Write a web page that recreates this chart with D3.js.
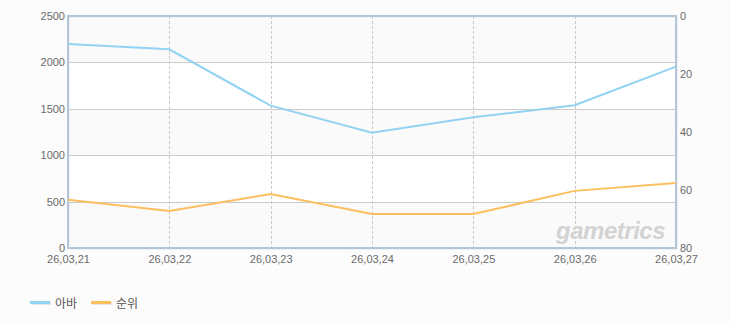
<!DOCTYPE html>
<html>
<head>
<meta charset="utf-8">
<script src="https://cdn.jsdelivr.net/npm/d3@7"></script>
<style>
  body { margin: 0; background: #fcfcfc; }
  text { font-family: "Liberation Sans", Arial, sans-serif; }
  .legend text { font-family: "Noto Sans CJK KR", sans-serif; }
</style>
</head>
<body>
<div id="chart"></div>
<script>
var dates = ["26,03,21", "26,03,22", "26,03,23", "26,03,24", "26,03,25", "26,03,26", "26,03,27"];
var abaValues = [2198, 2141, 1534, 1243, 1408, 1538, 1954];
var rankValues = [63.4, 67.2, 61.4, 68.3, 68.3, 60.3, 57.6];
var leftTicks = [0, 500, 1000, 1500, 2000, 2500];
var rightTicks = [0, 20, 40, 60, 80];
var seriesNames = ["아바", "순위"];

var svgWidth = 730;
var svgHeight = 325;
var margin = { top: 16, right: 54, bottom: 77, left: 68 };
var width = svgWidth - margin.left - margin.right;
var height = svgHeight - margin.top - margin.bottom;

var svg = d3.select("#chart")
  .append("svg")
  .attr("width", svgWidth)
  .attr("height", svgHeight);

var chartGroup = svg.append("g")
  .attr("transform", `translate(${margin.left}, ${margin.top})`);

var xScale = d3.scalePoint()
  .domain(dates)
  .range([0, width]);

var yLeft = d3.scaleLinear()
  .domain([0, 2500])
  .range([height, 0]);

var yRight = d3.scaleLinear()
  .domain([0, 80])
  .range([0, height]);

// alternating bands
var bands = d3.pairs(leftTicks);
chartGroup.selectAll("rect.band")
  .data(bands)
  .enter()
  .append("rect")
  .attr("x", 0)
  .attr("width", width)
  .attr("y", d => yLeft(d[1]))
  .attr("height", d => yLeft(d[0]) - yLeft(d[1]))
  .attr("fill", (d, i) => i % 2 === 0 ? "#fafafa" : "#ffffff");

// horizontal grid
chartGroup.selectAll("line.hgrid")
  .data(leftTicks.slice(1, -1))
  .enter()
  .append("line")
  .attr("x1", 0).attr("x2", width)
  .attr("y1", d => Math.round(yLeft(d)) + 0.5)
  .attr("y2", d => Math.round(yLeft(d)) + 0.5)
  .attr("stroke", "#cccccc");

// vertical dashed grid
chartGroup.selectAll("line.vgrid")
  .data(dates.slice(1, -1))
  .enter()
  .append("line")
  .attr("x1", d => Math.round(xScale(d)) + 0.5)
  .attr("x2", d => Math.round(xScale(d)) + 0.5)
  .attr("y1", 0).attr("y2", height)
  .attr("stroke", "#c8c8c8")
  .attr("stroke-dasharray", "3,2");

// watermark
chartGroup.append("text")
  .attr("x", width - 11)
  .attr("y", height - 9)
  .attr("text-anchor", "end")
  .attr("font-size", 24)
  .attr("font-weight", "bold")
  .attr("font-style", "italic")
  .attr("fill", "#d3d3d3")
  .attr("letter-spacing", -0.5)
  .text("gametrics");

// plot frame
chartGroup.append("rect")
  .attr("x", 1).attr("y", 1)
  .attr("width", width).attr("height", height)
  .attr("fill", "none")
  .attr("stroke", "#e6e6e6")
  .attr("stroke-width", 1);
chartGroup.append("rect")
  .attr("x", 0).attr("y", 0)
  .attr("width", width).attr("height", height)
  .attr("fill", "none")
  .attr("stroke", "#b3c5d8")
  .attr("stroke-width", 2);

// lines
var abaLine = d3.line()
  .x((d, i) => xScale(dates[i]))
  .y(d => yLeft(d));

var rankLine = d3.line()
  .x((d, i) => xScale(dates[i]))
  .y(d => yRight(d));

chartGroup.append("path")
  .datum(rankValues)
  .attr("d", rankLine)
  .attr("fill", "none")
  .attr("stroke", "#fcbf5e")
  .attr("stroke-width", 2);

chartGroup.append("path")
  .datum(abaValues)
  .attr("d", abaLine)
  .attr("fill", "none")
  .attr("stroke", "#92d2f2")
  .attr("stroke-width", 2);

// axes
var leftAxis = d3.axisLeft(yLeft).tickValues(leftTicks).tickFormat(d3.format("d")).tickSize(0).tickPadding(3);
var rightAxis = d3.axisRight(yRight).tickValues(rightTicks).tickSize(0).tickPadding(4);
var bottomAxis = d3.axisBottom(xScale).tickSize(0).tickPadding(7);

function styleAxis(g) {
  g.select(".domain").remove();
  g.selectAll("text").attr("fill", "#6a6a6a").attr("font-size", 11);
}

chartGroup.append("g").call(leftAxis).call(styleAxis);
chartGroup.append("g").attr("transform", `translate(${width}, 0)`).call(rightAxis).call(styleAxis);
chartGroup.append("g").attr("transform", `translate(0, ${height})`).call(bottomAxis).call(styleAxis);

// legend
var legendColors = ["#92d2f2", "#fcbf5e"];
var legend = svg.append("g").attr("class", "legend");
var legendItems = legend.selectAll("g")
  .data(seriesNames)
  .enter()
  .append("g")
  .attr("transform", (d, i) => `translate(${30 + i * 61}, 301)`);

legendItems.append("rect")
  .attr("x", 1).attr("y", 1)
  .attr("width", 20).attr("height", 3)
  .attr("fill", "#e4e4e4");
legendItems.append("rect")
  .attr("x", 0).attr("y", 0)
  .attr("width", 20).attr("height", 3)
  .attr("fill", (d, i) => legendColors[i]);
legendItems.append("text")
  .attr("x", 25)
  .attr("y", 3)
  .attr("dy", "0.35em")
  .attr("font-size", 12)
  .attr("fill", "#555")
  .text(d => d);
</script>
</body>
</html>
